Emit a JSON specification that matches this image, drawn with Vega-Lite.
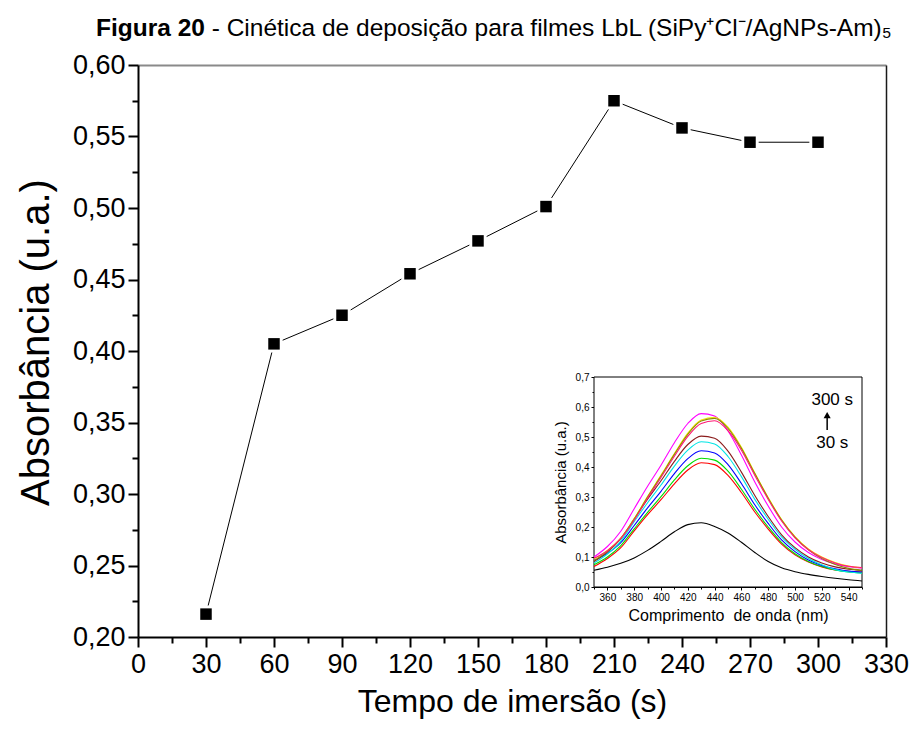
{
  "$schema": "https://vega.github.io/schema/vega-lite/v6.json",
  "width": 748,
  "height": 572,
  "autosize": {"type": "none"},
  "padding": {"left": 138, "top": 65, "right": 28, "bottom": 101},
  "background": "white",
  "config": {
    "font": "Liberation Sans",
    "view": {"stroke": null},
    "axis": {
      "grid": false,
      "labelColor": "black",
      "titleColor": "black",
      "tickColor": "black",
      "domainColor": "black",
      "labelFont": "Liberation Sans",
      "titleFont": "Liberation Sans",
      "titleFontWeight": "normal",
      "labelFlush": false,
      "labelOverlap": false,
      "zindex": 1
    }
  },
  "datasets": {
    "cinetica": [
      {"tempo": 30, "abs": 0.216},
      {"tempo": 60, "abs": 0.405},
      {"tempo": 90, "abs": 0.425},
      {"tempo": 120, "abs": 0.454},
      {"tempo": 150, "abs": 0.477},
      {"tempo": 180, "abs": 0.501},
      {"tempo": 210, "abs": 0.575},
      {"tempo": 240, "abs": 0.556},
      {"tempo": 270, "abs": 0.546},
      {"tempo": 300, "abs": 0.546}
    ],
    "espectros": [
      {"nm": 350, "s30": 0.056, "s60": 0.068, "s90": 0.074, "s120": 0.088, "s150": 0.080, "s180": 0.085, "s210": 0.100, "s240": 0.093, "s270": 0.088, "s300": 0.096},
      {"nm": 360, "s30": 0.066, "s60": 0.095, "s90": 0.100, "s120": 0.112, "s150": 0.110, "s180": 0.116, "s210": 0.135, "s240": 0.122, "s270": 0.119, "s300": 0.121},
      {"nm": 370, "s30": 0.079, "s60": 0.131, "s90": 0.138, "s120": 0.148, "s150": 0.153, "s180": 0.161, "s210": 0.186, "s240": 0.163, "s270": 0.162, "s300": 0.162},
      {"nm": 380, "s30": 0.097, "s60": 0.187, "s90": 0.194, "s120": 0.205, "s150": 0.218, "s180": 0.227, "s210": 0.261, "s240": 0.228, "s270": 0.226, "s300": 0.223},
      {"nm": 390, "s30": 0.122, "s60": 0.241, "s90": 0.249, "s120": 0.264, "s150": 0.281, "s180": 0.293, "s210": 0.336, "s240": 0.302, "s270": 0.300, "s300": 0.296},
      {"nm": 400, "s30": 0.152, "s60": 0.291, "s90": 0.301, "s120": 0.319, "s150": 0.340, "s180": 0.354, "s210": 0.406, "s240": 0.373, "s270": 0.370, "s300": 0.365},
      {"nm": 410, "s30": 0.184, "s60": 0.344, "s90": 0.357, "s120": 0.378, "s150": 0.403, "s180": 0.419, "s210": 0.481, "s240": 0.445, "s270": 0.442, "s300": 0.436},
      {"nm": 420, "s30": 0.208, "s60": 0.390, "s90": 0.404, "s120": 0.428, "s150": 0.456, "s180": 0.475, "s210": 0.545, "s240": 0.513, "s270": 0.509, "s300": 0.502},
      {"nm": 430, "s30": 0.214, "s60": 0.414, "s90": 0.429, "s120": 0.454, "s150": 0.484, "s180": 0.503, "s210": 0.578, "s240": 0.557, "s270": 0.553, "s300": 0.545},
      {"nm": 440, "s30": 0.202, "s60": 0.408, "s90": 0.423, "s120": 0.447, "s150": 0.477, "s180": 0.496, "s210": 0.570, "s240": 0.566, "s270": 0.562, "s300": 0.554},
      {"nm": 450, "s30": 0.180, "s60": 0.372, "s90": 0.386, "s120": 0.408, "s150": 0.435, "s180": 0.453, "s210": 0.520, "s240": 0.533, "s270": 0.529, "s300": 0.521},
      {"nm": 460, "s30": 0.149, "s60": 0.315, "s90": 0.326, "s120": 0.345, "s150": 0.368, "s180": 0.383, "s210": 0.440, "s240": 0.466, "s270": 0.462, "s300": 0.456},
      {"nm": 470, "s30": 0.115, "s60": 0.250, "s90": 0.259, "s120": 0.274, "s150": 0.292, "s180": 0.305, "s210": 0.350, "s240": 0.380, "s270": 0.378, "s300": 0.372},
      {"nm": 480, "s30": 0.085, "s60": 0.193, "s90": 0.200, "s120": 0.212, "s150": 0.226, "s180": 0.235, "s210": 0.270, "s240": 0.298, "s270": 0.296, "s300": 0.292},
      {"nm": 490, "s30": 0.064, "s60": 0.143, "s90": 0.148, "s120": 0.157, "s150": 0.167, "s180": 0.174, "s210": 0.200, "s240": 0.225, "s270": 0.223, "s300": 0.220},
      {"nm": 500, "s30": 0.051, "s60": 0.107, "s90": 0.111, "s120": 0.118, "s150": 0.126, "s180": 0.131, "s210": 0.150, "s240": 0.168, "s270": 0.166, "s300": 0.164},
      {"nm": 510, "s30": 0.042, "s60": 0.083, "s90": 0.085, "s120": 0.090, "s150": 0.095, "s180": 0.100, "s210": 0.115, "s240": 0.127, "s270": 0.124, "s300": 0.124},
      {"nm": 520, "s30": 0.035, "s60": 0.067, "s90": 0.068, "s120": 0.072, "s150": 0.074, "s180": 0.080, "s210": 0.092, "s240": 0.100, "s270": 0.095, "s300": 0.098},
      {"nm": 530, "s30": 0.029, "s60": 0.057, "s90": 0.057, "s120": 0.061, "s150": 0.058, "s180": 0.067, "s210": 0.077, "s240": 0.082, "s270": 0.075, "s300": 0.080},
      {"nm": 540, "s30": 0.024, "s60": 0.052, "s90": 0.050, "s120": 0.053, "s150": 0.050, "s180": 0.059, "s210": 0.068, "s240": 0.070, "s270": 0.062, "s300": 0.069},
      {"nm": 550, "s30": 0.020, "s60": 0.050, "s90": 0.047, "s120": 0.050, "s150": 0.046, "s180": 0.055, "s210": 0.063, "s240": 0.064, "s270": 0.056, "s300": 0.065}
    ]
  },
  "layer": [
    {
      "data": {"name": "cinetica"},
      "mark": {"type": "point", "opacity": 0},
      "encoding": {
        "x": {
          "field": "tempo", "type": "quantitative",
          "scale": {"domain": [0, 330], "nice": false, "zero": false},
          "axis": {"orient": "bottom", "values": [15, 45, 75, 105, 135, 165, 195, 225, 255, 285, 315], "labels": false, "domain": false, "tickSize": 6, "tickWidth": 2, "title": null}
        },
        "y": {
          "field": "abs", "type": "quantitative",
          "scale": {"domain": [0.2, 0.6], "nice": false, "zero": false},
          "axis": {"orient": "left", "values": [0.225, 0.275, 0.325, 0.375, 0.425, 0.475, 0.525, 0.575], "labels": false, "domain": false, "tickSize": 6, "tickWidth": 2, "title": null}
        }
      }
    },
    {
      "data": {"name": "cinetica"},
      "mark": {"type": "point", "opacity": 0},
      "encoding": {
        "x": {
          "field": "tempo", "type": "quantitative",
          "scale": {"domain": [0, 330], "nice": false, "zero": false},
          "axis": {"orient": "top", "labels": false, "ticks": false, "domainColor": "#8a8a8a", "domainWidth": 2, "title": null}
        },
        "y": {
          "field": "abs", "type": "quantitative",
          "scale": {"domain": [0.2, 0.6], "nice": false, "zero": false},
          "axis": {"orient": "right", "labels": false, "ticks": false, "domainColor": "#1a1a1a", "domainWidth": 1.5, "title": null}
        }
      }
    },
    {
      "data": {"name": "cinetica"},
      "encoding": {
        "x": {
          "field": "tempo", "type": "quantitative",
          "scale": {"domain": [0, 330], "nice": false, "zero": false},
          "axis": {
            "orient": "bottom",
            "values": [0, 30, 60, 90, 120, 150, 180, 210, 240, 270, 300, 330],
            "format": "d",
            "domainWidth": 2, "tickWidth": 2, "tickSize": 10,
            "labelFontSize": 27, "labelPadding": 4,
            "title": "Tempo de imersão (s)", "titleFontSize": 32, "titlePadding": 9
          }
        },
        "y": {
          "field": "abs", "type": "quantitative",
          "scale": {"domain": [0.2, 0.6], "nice": false, "zero": false},
          "axis": {
            "orient": "left",
            "values": [0.2, 0.25, 0.3, 0.35, 0.4, 0.45, 0.5, 0.55, 0.6],
            "labelExpr": "replace(format(datum.value, '.2f'), '.', ',')",
            "domainWidth": 2, "tickWidth": 2, "tickSize": 10,
            "labelFontSize": 27, "labelPadding": 3,
            "title": "Absorbância (u.a.)", "titleFontSize": 40, "titlePadding": 16, "titleY": 277
          }
        }
      },
      "layer": [
        {"mark": {"type": "line", "color": "black", "strokeWidth": 1}},
        {"mark": {"type": "square", "filled": true, "color": "white", "opacity": 1, "size": 300}},
        {"mark": {"type": "square", "filled": true, "color": "black", "opacity": 1, "size": 132}}
      ]
    },
    {
      "data": {"values": [{}]},
      "layer": [
        {
          "mark": {"type": "text", "fontSize": 24.5, "fontWeight": "bold", "align": "left", "baseline": "alphabetic", "color": "black"},
          "encoding": {
            "x": {"datum": -18.5, "type": "quantitative", "scale": {"domain": [0, 330], "nice": false, "zero": false}, "axis": null},
            "y": {"datum": 0.6203, "type": "quantitative", "scale": {"domain": [0.2, 0.6], "nice": false, "zero": false}, "axis": null},
            "text": {"value": "Figura 20"}
          }
        },
        {
          "mark": {"type": "text", "fontSize": 24.5, "align": "left", "baseline": "alphabetic", "color": "black"},
          "encoding": {
            "x": {"datum": 32.5, "type": "quantitative", "scale": {"domain": [0, 330], "nice": false, "zero": false}, "axis": null},
            "y": {"datum": 0.6203, "type": "quantitative", "scale": {"domain": [0.2, 0.6], "nice": false, "zero": false}, "axis": null},
            "text": {"value": "- Cinética de deposição para filmes LbL (SiPy⁺Cl⁻/AgNPs-Am)₅"}
          }
        }
      ]
    },
    {
      "layer": [
        {
          "data": {"values": [{}]},
          "mark": {"type": "rect", "fill": "white", "stroke": "black", "strokeWidth": 1},
          "encoding": {
            "x": {"datum": 350, "type": "quantitative", "scale": {"domain": [350, 550], "range": [456, 724], "nice": false, "zero": false}, "axis": null},
            "x2": {"datum": 550},
            "y": {"datum": 0, "type": "quantitative", "scale": {"domain": [0, 0.7], "range": [522, 312], "nice": false, "zero": false}, "axis": null},
            "y2": {"datum": 0.7}
          }
        },
        {
          "data": {"values": [{"rotulo": "300 s", "nm": 527.8, "abs": 0.607}, {"rotulo": "30 s", "nm": 527.8, "abs": 0.463}]},
          "mark": {"type": "text", "fontSize": 17, "align": "center", "baseline": "alphabetic", "color": "black"},
          "encoding": {
            "x": {"field": "nm", "type": "quantitative", "scale": {"domain": [350, 550], "range": [456, 724], "nice": false, "zero": false}, "axis": null},
            "y": {"field": "abs", "type": "quantitative", "scale": {"domain": [0, 0.7], "range": [522, 312], "nice": false, "zero": false}, "axis": null},
            "text": {"field": "rotulo"}
          }
        },
        {
          "data": {"values": [{}]},
          "mark": {"type": "rule", "color": "black", "strokeWidth": 1.5},
          "encoding": {
            "x": {"datum": 524, "type": "quantitative", "scale": {"domain": [350, 550], "range": [456, 724], "nice": false, "zero": false}, "axis": null},
            "y": {"datum": 0.523, "type": "quantitative", "scale": {"domain": [0, 0.7], "range": [522, 312], "nice": false, "zero": false}, "axis": null},
            "y2": {"datum": 0.575}
          }
        },
        {
          "data": {"values": [{}]},
          "mark": {"type": "point", "shape": "triangle-up", "filled": true, "color": "black", "opacity": 1, "size": 50},
          "encoding": {
            "x": {"datum": 524, "type": "quantitative", "scale": {"domain": [350, 550], "range": [456, 724], "nice": false, "zero": false}, "axis": null},
            "y": {"datum": 0.573, "type": "quantitative", "scale": {"domain": [0, 0.7], "range": [522, 312], "nice": false, "zero": false}, "axis": null}
          }
        }
      ]
    },
    {
      "data": {"name": "espectros"},
      "mark": {"type": "point", "opacity": 0},
      "encoding": {
        "x": {
          "field": "nm", "type": "quantitative",
          "scale": {"domain": [350, 550], "range": [456, 724], "nice": false, "zero": false},
          "axis": {"orient": "bottom", "offset": -50, "values": [350, 370, 390, 410, 430, 450, 470, 490, 510, 530, 550], "labels": false, "domain": false, "tickSize": 2, "tickWidth": 1, "title": null}
        },
        "y": {
          "field": "s30", "type": "quantitative",
          "scale": {"domain": [0, 0.7], "range": [522, 312], "nice": false, "zero": false},
          "axis": {"orient": "left", "offset": -456, "values": [0.05, 0.15, 0.25, 0.35, 0.45, 0.55, 0.65], "labels": false, "domain": false, "tickSize": 2, "tickWidth": 1, "title": null}
        }
      }
    },
    {
      "data": {"name": "espectros"},
      "transform": [{"fold": ["s30", "s60", "s90", "s120", "s150", "s180", "s210", "s240", "s270", "s300"], "as": ["serie", "abs"]}],
      "mark": {"type": "line", "strokeWidth": 1.1, "interpolate": "monotone"},
      "encoding": {
        "x": {
          "field": "nm", "type": "quantitative",
          "scale": {"domain": [350, 550], "range": [456, 724], "nice": false, "zero": false},
          "axis": {
            "orient": "bottom", "offset": -50,
            "values": [360, 380, 400, 420, 440, 460, 480, 500, 520, 540],
            "format": "d",
            "domainWidth": 1, "tickWidth": 1, "tickSize": 3,
            "labelFontSize": 10, "labelPadding": 2,
            "title": "Comprimento\u00a0 de onda (nm)", "titleFontSize": 16, "titlePadding": 5
          }
        },
        "y": {
          "field": "abs", "type": "quantitative",
          "scale": {"domain": [0, 0.7], "range": [522, 312], "nice": false, "zero": false},
          "axis": {
            "orient": "left", "offset": -456,
            "values": [0, 0.1, 0.2, 0.3, 0.4, 0.5, 0.6, 0.7],
            "labelExpr": "replace(format(datum.value, '.1f'), '.', ',')",
            "domainWidth": 1, "tickWidth": 1, "tickSize": 3,
            "labelFontSize": 10, "labelPadding": 2,
            "title": "Absorbância (u.a.)", "titleFontSize": 15, "titlePadding": 7
          }
        },
        "color": {
          "field": "serie", "type": "nominal",
          "scale": {
            "domain": ["s30", "s60", "s90", "s120", "s150", "s180", "s210", "s240", "s270", "s300"],
            "range": ["#000000", "#ff0000", "#00dd00", "#0000ff", "#00e5e5", "#8b1c1c", "#ff00ff", "#f2e600", "#8c8c00", "#ff1a75"]
          },
          "legend": null
        }
      }
    }
  ],
  "resolve": {
    "scale": {"x": "independent", "y": "independent"},
    "axis": {"x": "independent", "y": "independent"}
  }
}
